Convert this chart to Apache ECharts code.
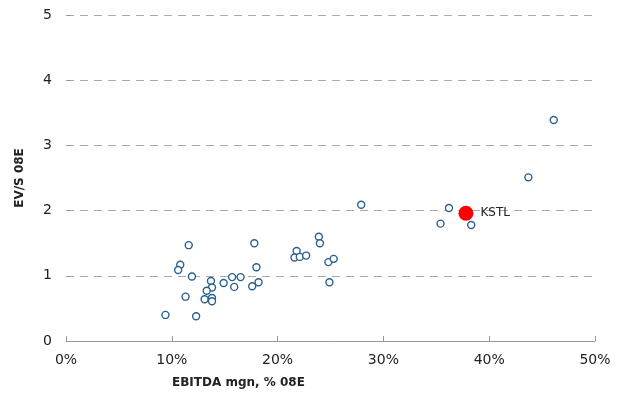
<!DOCTYPE html>
<html>
<head>
<meta charset="utf-8">
<script src="https://cdn.jsdelivr.net/npm/echarts@6/dist/echarts.min.js"></script>
<style>html,body{margin:0;padding:0;background:#fff}#c{width:617px;height:394px}</style>
</head>
<body>
<div id="c"></div>
<script>
// EBITDA margin (%) and EV/Sales 08E for peers
var peerMargin = [9.4, 12.3, 11.6, 10.8, 10.6, 11.9, 11.3, 13.7, 13.8, 13.3, 13.1, 13.8, 13.8, 14.9, 15.7, 15.9, 16.5, 17.8, 18.0, 17.6, 18.2,
  27.9, 23.9, 24.0, 21.8, 21.6, 22.1, 22.7, 24.8, 25.3, 24.9,
  46.1, 43.7, 36.2, 35.4, 38.3];
var peerEVS = [0.40, 0.38, 1.47, 1.17, 1.09, 0.99, 0.68, 0.92, 0.82, 0.77, 0.64, 0.66, 0.61, 0.89, 0.98, 0.83, 0.98, 1.50, 1.13, 0.84, 0.90,
  2.09, 1.60, 1.50, 1.38, 1.28, 1.29, 1.31, 1.21, 1.26, 0.90,
  3.39, 2.51, 2.04, 1.80, 1.78];
var kstlName = ['KSTL'];
var kstlMargin = [37.8];
var kstlEVS = [1.96];
var xTicks = [0, 10, 20, 30, 40, 50];
var yTicks = [0, 1, 2, 3, 4, 5];

var peers = peerMargin.map(function (v, i) { return [v, peerEVS[i]]; });
var kstl = kstlMargin.map(function (v, i) { return { value: [v, kstlEVS[i]], name: kstlName[i] }; });

var chart = echarts.init(document.getElementById('c'), null, { renderer: 'canvas' });
var font = 'DejaVu Sans, Verdana, sans-serif';
chart.setOption({
  animation: false,
  grid: { left: 66, right: 22, top: 15, bottom: 53 },
  xAxis: {
    type: 'value', min: xTicks[0], max: xTicks[xTicks.length - 1], interval: 10,
    axisLine: { show: true, lineStyle: { color: '#999', width: 1 } },
    axisTick: { show: true, inside: true, length: 5, lineStyle: { color: '#999' } },
    splitLine: { show: false },
    axisLabel: { formatter: '{value}%', color: '#222', fontSize: 14, fontFamily: font, margin: 12 }
  },
  yAxis: {
    type: 'value', min: yTicks[0], max: yTicks[yTicks.length - 1], interval: 1,
    name: 'EV/S 08E', nameLocation: 'middle', nameGap: 40, nameRotate: 90,
    nameTextStyle: { color: '#222', fontSize: 12, fontWeight: 'bold', fontFamily: font },
    axisLine: { show: false },
    axisTick: { show: true, inside: true, length: 5, lineStyle: { color: '#999' } },
    splitLine: { show: true, lineStyle: { color: '#aaa', type: [8, 6], width: 1 } },
    axisLabel: { color: '#222', fontSize: 14, fontFamily: font, margin: 14 }
  },
  graphic: [{
    type: 'text', left: 172, top: 377,
    style: { text: 'EBITDA mgn, % 08E', fill: '#222', font: 'bold 12px ' + font }
  }],
  series: [{
    type: 'scatter', data: peers, symbol: 'circle', symbolSize: 7,
    itemStyle: { color: '#fff', borderColor: '#2a5f8f', borderWidth: 1.4, opacity: 1 }
  }, {
    type: 'scatter', data: kstl, symbol: 'circle', symbolSize: 15,
    itemStyle: { color: '#ff0000', opacity: 1 },
    label: { show: true, position: 'right', distance: 7, formatter: '{b}', color: '#222', fontSize: 12, fontFamily: font }
  }]
});
</script>
</body>
</html>
